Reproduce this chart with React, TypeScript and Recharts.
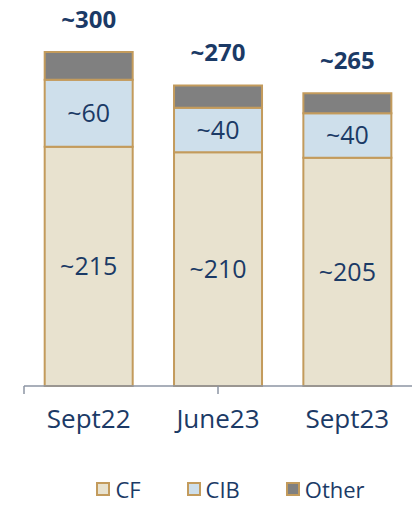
import { BarChart, Bar, XAxis, YAxis, LabelList, Legend } from 'recharts';

const categories = ['Sept22', 'June23', 'Sept23'];
const cfValues = [215, 210, 205];
const cibValues = [60, 40, 40];
const otherValues = [25, 20, 18];
const totalLabels = ['~300', '~270', '~265'];
const boundaryTicks = [0, 1, 2, 3];

const NAVY = '#1B3A66';
const BORDER = '#C39B5C';
const FONT = '"Open Sans", sans-serif';

const SERIES = [
  { key: 'CF', fill: '#E8E2CF' },
  { key: 'CIB', fill: '#CEDFEB' },
  { key: 'Other', fill: '#808080' },
];

const data = categories.map((name, i) => ({
  name,
  CF: cfValues[i],
  CIB: cibValues[i],
  Other: otherValues[i],
  total: totalLabels[i],
}));

const renderLegend = () => (
  <div
    style={{
      display: 'flex',
      justifyContent: 'center',
      gap: 46,
      paddingLeft: 44,
      fontFamily: FONT,
      lineHeight: '24px',
      height: 24,
    }}
  >
    {SERIES.map((s) => (
      <div key={s.key} style={{ display: 'flex', alignItems: 'center', gap: 5 }}>
        <span
          style={{
            display: 'inline-block',
            width: 10,
            height: 10,
            background: s.fill,
            border: `2px solid ${BORDER}`,
          }}
        />
        <span style={{ color: NAVY, fontSize: 22 }}>{s.key}</span>
      </div>
    ))}
  </div>
);

export default function App() {
  return (
    <div style={{ position: 'absolute', left: 0, top: 0, width: 417, height: 505, background: '#fff' }}>
      <BarChart
        width={417}
        height={505}
        data={data}
        margin={{ top: 52, right: 5, left: 24, bottom: 78 }}
        barCategoryGap="16%"
      >
        <XAxis
          xAxisId="bounds"
          type="number"
          domain={[0, 3]}
          ticks={boundaryTicks}
          allowDataOverflow
          height={1}
          tick={() => <g />}
          tickSize={8}
          stroke="#8C94A3"
          strokeWidth={1.5}
        />
        <XAxis
          xAxisId="cat"
          dataKey="name"
          height={40}
          axisLine={false}
          tickLine={false}
          tickSize={8}
          tickMargin={15}
          tick={{ fill: NAVY, fontSize: 26, fontFamily: FONT }}
          interval={0}
        />
        <YAxis hide domain={[0, 300]} />
        <Legend
          verticalAlign="middle"
          align="center"
          content={renderLegend}
          wrapperStyle={{ top: 477, left: 0, width: 417 }}
        />
        <Bar xAxisId="cat" dataKey="CF" stackId="a" fill="#E8E2CF" stroke={BORDER} strokeWidth={2} isAnimationActive={false}>
          <LabelList
            dataKey="CF"
            position="center"
            formatter={(v: number) => `~${v}`}
            style={{ fill: NAVY, fontSize: 25, fontFamily: FONT }}
          />
        </Bar>
        <Bar xAxisId="cat" dataKey="CIB" stackId="a" fill="#CEDFEB" stroke={BORDER} strokeWidth={2} isAnimationActive={false}>
          <LabelList
            dataKey="CIB"
            position="center"
            formatter={(v: number) => `~${v}`}
            style={{ fill: NAVY, fontSize: 25, fontFamily: FONT }}
          />
        </Bar>
        <Bar xAxisId="cat" dataKey="Other" stackId="a" fill="#808080" stroke={BORDER} strokeWidth={2} isAnimationActive={false}>
          <LabelList
            dataKey="total"
            position="top"
            offset={24}
            style={{ fill: NAVY, fontSize: 24, fontWeight: 700, fontFamily: FONT }}
          />
        </Bar>
      </BarChart>
    </div>
  );
}
